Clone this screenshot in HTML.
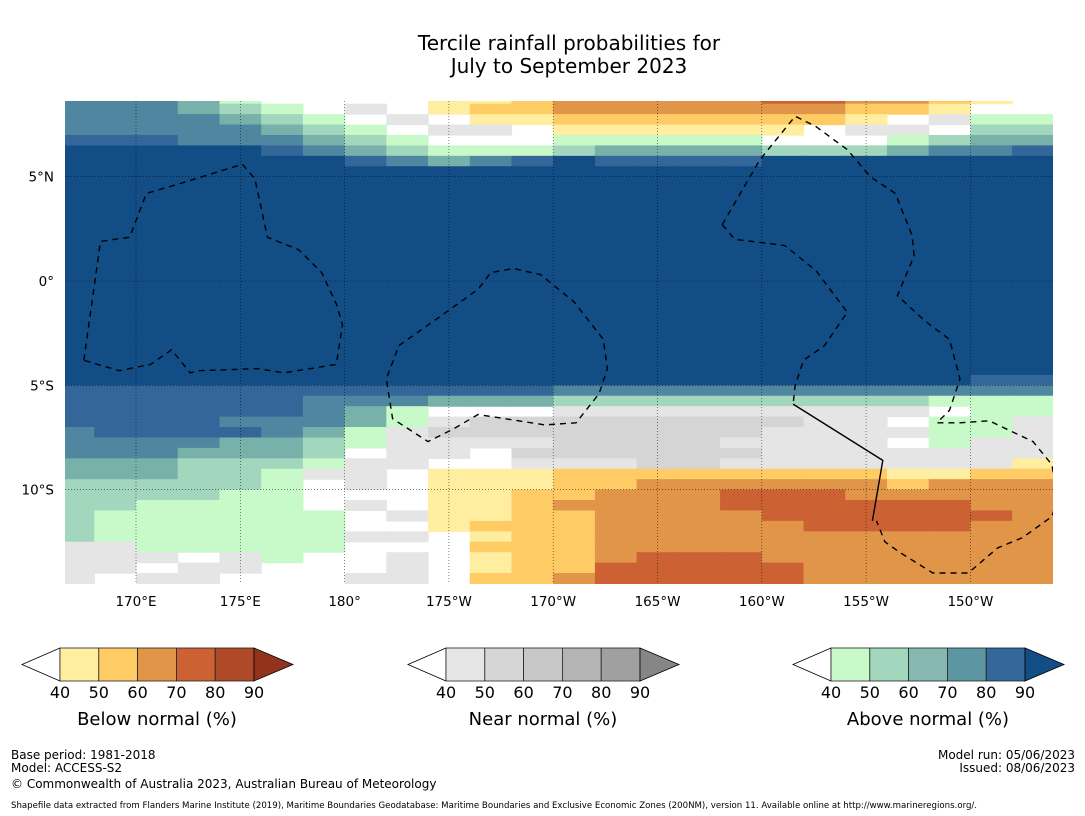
<!DOCTYPE html>
<html><head><meta charset="utf-8"><style>
body{margin:0;background:#fff;width:1085px;height:816px;overflow:hidden;font-family:"DejaVu Sans","Liberation Sans",sans-serif}
svg{display:block}
</style></head><body>
<svg id="chart" width="1085" height="816" xmlns="http://www.w3.org/2000/svg">
<text x="569" y="50" font-size="20" text-anchor="middle">Tercile rainfall probabilities for</text>
<text x="569" y="73" font-size="20" text-anchor="middle">July to September 2023</text>
<defs><clipPath id="mapclip"><rect x="65" y="101" width="988" height="483"/></clipPath></defs>
<g id="map" clip-path="url(#mapclip)"></g>
<g id="axes"></g>
<g id="legends"></g>
<g font-size="12">
<text x="11" y="759">Base period: 1981-2018</text>
<text x="11" y="772">Model: ACCESS-S2</text>
<text x="11" y="788">© Commonwealth of Australia 2023, Australian Bureau of Meteorology</text>
<text x="1075" y="759" text-anchor="end">Model run: 05/06/2023</text>
<text x="1075" y="772" text-anchor="end">Issued: 08/06/2023</text>
<text x="11" y="808" font-size="8.6">Shapefile data extracted from Flanders Marine Institute (2019), Maritime Boundaries Geodatabase: Maritime Boundaries and Exclusive Economic Zones (200NM), version 11. Available online at http://www.marineregions.org/.</text>
</g>
</svg>
<script>
// grid: columns of 2° longitude starting 166°E, rows of 0.5° latitude starting 9°N
const lonStart = 166, lonStep = 2;
const latStart = 9, latStep = 0.5;
const gridRows = [
"sssrp....aabcccccddccba.",
"sssrqp.g.abbcccccccbba..",
"ssssrqp.g.aabbbbbbba.gpp",
"sssssrqp.gg.aaaaaa.gg.qq",
"tttsssrqp...ppppp...pqrr",
"uuuuutsrqpppqrrrrqqqrsst",
"uuuuuuutsrstuttttuuuuuuu",
"uuuuuuuuuuuuuuuuuuuuuuuu",
"uuuuuuuuuuuuuuuuuuuuuuuu",
"uuuuuuuuuuuuuuuuuuuuuuuu",
"uuuuuuuuuuuuuuuuuuuuuuuu",
"uuuuuuuuuuuuuuuuuuuuuuuu",
"uuuuuuuuuuuuuuuuuuuuuuuu",
"uuuuuuuuuuuuuuuuuuuuuuuu",
"uuuuuuuuuuuuuuuuuuuuuuuu",
"uuuuuuuuuuuuuuuuuuuuuuuu",
"uuuuuuuuuuuuuuuuuuuuuuuu",
"uuuuuuuuuuuuuuuuuuuuuuuu",
"uuuuuuuuuuuuuuuuuuuuuuuu",
"uuuuuuuuuuuuuuuuuuuuuuuu",
"uuuuuuuuuuuuuuuuuuuuuuuu",
"uuuuuuuuuuuuuuuuuuuuuuuu",
"uuuuuuuuuuuuuuuuuuuuuuuu",
"uuuuuuuuuuuuuuuuuuuuuuuu",
"uuuuuuuuuuuuuuuuuuuuuuuu",
"uuuuuuuuuuuuuuuuuuuuuuuu",
"uuuuuuuuuuuuuuuuuuuuuuuu",
"uuuuuuuuuuuuuuuuuuuuuutt",
"ttttttttttttssssssssssss",
"ttttttsssrrrqqqqqqqqqppp",
"ttttttsrp...ggggggggg.pp",
"ttttsssrpghhhhhhhhgg.ppg",
"sttttsrpghhhhhhhhggggppg",
"ssssrrqpgggghhhhgggg.pgg",
"sssrrrq.gg.hhhhhhggggggg",
"rrrqqqpgg..ggghhggggggga",
"rrrqqpgg.aaabbbbbbbbaabb",
"qqqqqp.g.aaabbccccccbccc",
"qqqqpp...aabbcccdddccccc",
"qqpppp.g.aabccccddddddcc",
"qpppppp.gaabbccccddddddc",
"qpppppp..abbbcccccddddcc",
"qppppppgg.abbccccccccccc",
"ggppppp...bbbccccccccccc",
"ggg.gp..g.abbcdddccccccc",
"gg.gg...g.abbdddddcccccc",
"g.gg...gg.bbcdddddcccccc"
];
const catKeys = ['a','b','c','d','g','h','p','q','r','s','t','u'];
const catColors = ['#ffeda0','#fecb65','#e09549','#cc6233','#e5e5e5','#d5d5d5','#c8f9c9','#a2d6bd','#78b0aa','#4f86a0','#336699','#134d85'];

// map projection
const lonAt170 = 170, x170 = 136, pxPerDeg = 20.86, yEq = 281;
function xOf(lonE){ return x170 + (lonE - lonAt170) * pxPerDeg; }
function yOf(lat){ return yEq - lat * pxPerDeg; }
const NS = 'http://www.w3.org/2000/svg';
function mk(tag, attrs, parent){ const e=document.createElementNS(NS,tag); for(const k in attrs) e.setAttribute(k,attrs[k]); parent.appendChild(e); return e; }

const mapG = document.getElementById('map');
const bg = mk('rect',{x:65,y:101,width:988,height:483,fill:'#fff'},mapG);


gridRows.forEach((row, r) => {
  const latTop = latStart - r*latStep;
  for (let c = 0; c < 24; c++) {
    const ch = row[c] || row[row.length-1];
    const idx = catKeys.indexOf(ch);
    if (idx < 0) continue;
    const lonL = lonStart + c*lonStep;
    const cell = mk('rect',{x:xOf(lonL), y:yOf(latTop), width:lonStep*pxPerDeg+0.6, height:latStep*pxPerDeg+0.6, fill:catColors[idx]}, mapG);
    
    
  }
});

// EEZ boundaries (lon °E, lat)
const eezGilbertLon = [167.5,168.3,169.7,170.5,172.2,175.1,175.7,176.3,176.8,177.8,178.9,179.6,179.9,179.6,177.1,175.8,173.0,172.6,171.7,170.7,169.2,167.5];
const eezGilbertLat = [-3.8,1.9,2.1,4.2,4.7,5.6,4.9,2.1,1.9,1.5,0.4,-1.1,-2.1,-4.0,-4.4,-4.2,-4.3,-4.4,-3.3,-4.0,-4.3,-3.8];
const eezPhoenixLon = [182.6,184.3,186.4,187.0,188.1,189.4,191.0,192.4,192.6,192.2,191.1,189.6,186.4,185.2,184.0,182.3,182.0,182.6];
const eezPhoenixLat = [-3.1,-1.9,-0.4,0.4,0.6,0.3,-1.0,-2.8,-4.2,-5.4,-6.8,-6.9,-6.4,-7.1,-7.7,-6.6,-4.7,-3.1];
const eezLineLon = [198.1,199.9,201.6,202.6,204.1,205.2,206.4,207.2,207.3,206.5,207.8,209.0,209.5,209.0,208.4,209.5,210.9,213.0,213.9,214.2,213.9,212.5,211.3,209.9,208.2,206.6,205.9,205.5];
const eezLineLat = [2.7,5.8,7.9,7.4,6.3,5.0,4.2,2.2,1.2,-0.7,-1.9,-2.8,-4.7,-6.2,-6.8,-6.8,-6.7,-7.7,-8.8,-10.4,-11.3,-12.3,-12.8,-14.0,-14.0,-13.0,-12.5,-11.5];
const eezLineWLon = [198.1,198.7,201.1,202.6,204.1,203.0,202.0,201.6,201.5];
const eezLineWLat = [2.7,2.0,1.7,0.5,-1.5,-3.1,-3.8,-5.0,-5.9];
const borderLon = [201.5,205.8,205.3];
const borderLat = [-5.9,-8.6,-11.5];
function poly(lons, lats, name, dash){
  const pts = lons.map((l,i)=>xOf(l).toFixed(1)+','+yOf(lats[i]).toFixed(1)).join(' ');
  const p = mk('polyline',{points:pts, fill:'none', stroke:'#000', 'stroke-width':1.4, 'stroke-dasharray':dash?'6,5':'none'}, mapG);
  
  
}
poly(eezGilbertLon, eezGilbertLat, 'eez-gilbert-islands', true);
poly(eezPhoenixLon, eezPhoenixLat, 'eez-phoenix-islands', true);
poly(eezLineLon, eezLineLat, 'eez-line-islands', true);
poly(eezLineWLon, eezLineWLat, 'eez-line-islands-west', true);
poly(borderLon, borderLat, 'eez-border-solid', false);

// gridlines and tick labels
const lonTicks = [170,175,180,185,190,195,200,205,210];
const lonLabels = ['170°E','175°E','180°','175°W','170°W','165°W','160°W','155°W','150°W'];
const latTicks = [5,0,-5,-10];
const latLabels = ['5°N','0°','5°S','10°S'];
const axesG = document.getElementById('axes');
lonTicks.forEach((l,i)=>{
  const g = mk('line',{x1:xOf(l),x2:xOf(l),y1:101,y2:584,stroke:'#000','stroke-width':0.6,'stroke-dasharray':'1,2',opacity:0.8},axesG);
  
  
  const t = mk('text',{x:xOf(l),y:606,'font-size':13.5,'text-anchor':'middle'},axesG);
  t.textContent = lonLabels[i];
  
  
});
latTicks.forEach((l,i)=>{
  const g = mk('line',{x1:65,x2:1053,y1:yOf(l),y2:yOf(l),stroke:'#000','stroke-width':0.6,'stroke-dasharray':'1,2',opacity:0.8},axesG);
  
  
  const t = mk('text',{x:54,y:yOf(l)+5,'font-size':13.5,'text-anchor':'end'},axesG);
  t.textContent = latLabels[i];
  
  
});

// legends
const legTitles = ['Below normal (%)','Near normal (%)','Above normal (%)'];
const legStarts = [60,446,831];
const legColors = [
  ['#ffeda0','#fecb65','#e09549','#cc6233','#ae4a27','#93331e'],
  ['#e6e6e6','#d6d6d6','#c8c8c8','#b4b4b4','#a0a0a0','#868686'],
  ['#c8f9c9','#a2d6bd','#84b8b1','#5c96a2','#336699','#134d85']
];
const legTicks = ['40','50','60','70','80','90'];
const legsG = document.getElementById('legends');
const bw = 38.8, barTop = 648, barH = 33;
legStarts.forEach((x0,k)=>{
  const g = mk('g',{},legsG);
  
  
  const lt = mk('polygon',{points:`${x0},${barTop} ${x0-38},${barTop+barH/2} ${x0},${barTop+barH}`,fill:'#fff',stroke:'#000','stroke-width':0.8},g);
  
  
  for(let i=0;i<5;i++){
    const r = mk('rect',{x:x0+i*bw,y:barTop,width:bw,height:barH,fill:legColors[k][i],stroke:'#222','stroke-width':0.8},g);
    
    
  }
  const xe = x0+5*bw;
  const rt = mk('polygon',{points:`${xe},${barTop} ${xe+39},${barTop+barH/2} ${xe},${barTop+barH}`,fill:legColors[k][5],stroke:'#000','stroke-width':0.8},g);
  
  
  legTicks.forEach((t,i)=>{
    const tx = mk('text',{x:x0+i*bw,y:698,'font-size':16,'text-anchor':'middle'},g);
    tx.textContent = t;
    
    
  });
  const tt = mk('text',{x:x0+2.5*bw,y:725,'font-size':18,'text-anchor':'middle'},g);
  tt.textContent = legTitles[k];
  
  
});
</script>
</body></html>
